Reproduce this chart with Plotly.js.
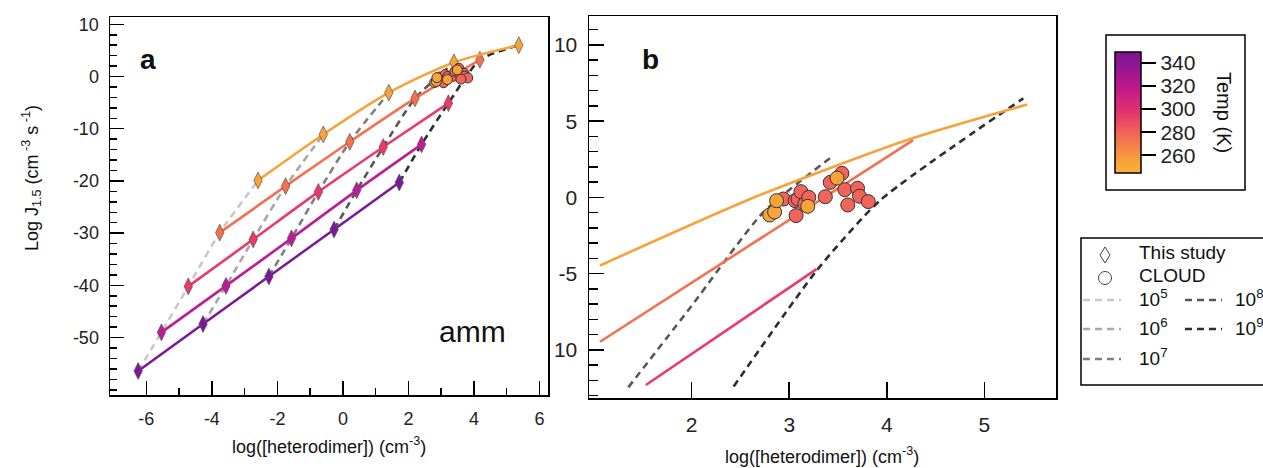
<!DOCTYPE html>
<html>
<head>
<meta charset="utf-8">
<script src="https://cdn.plot.ly/plotly-3.0.1.min.js"></script>
<style>html,body{margin:0;padding:0;background:#fff;}#chart{width:1263px;height:468px;}</style>
</head>
<body>
<div id="chart"></div>
<script>
// ---------- DATA ----------
// Panel a: "This study" curves, one per temperature (diamond points)
const xOrange  = [-2.59, -0.60, 1.40, 3.39, 5.37];
const yOrange  = [-19.9, -11.1, -3.1, 2.7, 6.0];
const xCoral   = [-3.76, -1.75, 0.21, 2.20, 4.18];
const yCoral   = [-29.9, -21.0, -12.5, -4.2, 3.2];
const xPink    = [-4.72, -2.74, -0.75, 1.23, 3.22];
const yPink    = [-40.2, -31.2, -22.1, -13.5, -5.1];
const xMagenta = [-5.54, -3.57, -1.57, 0.42, 2.40];
const yMagenta = [-49.0, -40.1, -31.0, -21.8, -13.0];
const xPurple  = [-6.25, -4.27, -2.26, -0.27, 1.72];
const yPurple  = [-56.4, -47.4, -38.3, -29.3, -20.3];
// iso-concentration labels (dashed lines join the n-th point of every curve)
const concLabels = ["10<sup>5</sup>", "10<sup>6</sup>", "10<sup>7</sup>", "10<sup>8</sup>", "10<sup>9</sup>"];

// Panel b: zoomed curves
const xOrangeB = [1.06, 2.60, 3.49, 4.27, 5.44];
const yOrangeB = [-4.46, -0.10, 2.10, 3.90, 6.10];
const xCoralB  = [1.06, 4.27];
const yCoralB  = [-9.46, 3.76];
const xPinkB   = [1.53, 3.28];
const yPinkB   = [-12.3, -4.7];
const xDash8B  = [1.35, 2.00, 2.73, 3.44];
const yDash8B  = [-12.45, -7.1, -1.0, 2.68];
const xDash9B  = [2.43, 3.28, 3.93, 5.40];
const yDash9B  = [-12.4, -4.8, -0.2, 6.5];

// CLOUD measurements (x, y, temperature K)
const xCloud = [2.94, 3.06, 3.09, 3.12, 3.16, 3.20, 3.07, 3.37, 3.42, 3.54, 3.57, 3.70, 3.72, 3.81, 3.60, 2.80, 2.85, 2.87, 3.19, 3.49];
const yCloud = [-0.10, -0.21, -0.10, 0.38, -0.42, 0.01, -1.19, 0.05, 0.99, 1.58, 0.51, 0.60, 0.08, -0.27, -0.49, -1.15, -0.95, -0.21, -0.58, 1.27];
const tCloud = [280, 280, 280, 280, 280, 280, 280, 280, 280, 280, 280, 280, 280, 280, 280, 255, 255, 255, 255, 255];

const tempTicks = [260, 280, 300, 320, 340];
const xTicksA = [-6, -4, -2, 0, 2, 4, 6];
const yTicksA = [10, 0, -10, -20, -30, -40, -50];
const xTicksB = [2, 3, 4, 5];
const yTicksB = [10, 5, 0, -5, -10];
const yTickTextB = ["10", "5", "0", "-5", "10"];

// ---------- STYLE ----------
const W = 1263, H = 468;
const FONT = "Liberation Sans, Arial, sans-serif";
const colOrange = "#f8a23a", colCoral = "#f5704f", colPink = "#ea3a6b", colMagenta = "#bd1c97", colPurple = "#7a1a98";
const dashCols = ["#c9c9c9", "#a8a8a8", "#7e7e7e", "#575757", "#2e2e2e"];
const DASH = "7px,5px";
const cscale = [[0, "#fcb03a"], [0.1, "#f8a13a"], [0.333, "#f2635a"], [0.52, "#e0316f"], [0.71, "#bf178b"], [0.9, "#8e1693"], [1, "#7a1592"]];
const px = v => v / W;
const py = v => 1 - v / H;

const curves = [
  {x: xPurple, y: yPurple, c: colPurple},
  {x: xMagenta, y: yMagenta, c: colMagenta},
  {x: xPink, y: yPink, c: colPink},
  {x: xCoral, y: yCoral, c: colCoral},
  {x: xOrange, y: yOrange, c: colOrange}
];

const traces = [];
// dashed iso lines in panel a
for (let k = 0; k < 5; k++) {
  traces.push({
    x: curves.map(c => c.x[k]), y: curves.map(c => c.y[k]),
    xaxis: "x", yaxis: "y", mode: "lines", hoverinfo: "skip",
    line: {color: dashCols[k], width: 2.6, dash: DASH, shape: "spline", smoothing: 0.6}
  });
}
// solid curves with diamonds
curves.forEach(c => {
  traces.push({
    x: c.x, y: c.y, xaxis: "x", yaxis: "y", mode: "lines+markers",
    line: {color: c.c, width: 2.6, shape: "spline", smoothing: 0.8},
    marker: {symbol: "diamond-tall", size: 12, color: c.c, line: {color: "#555", width: 0.7}}
  });
});
// CLOUD in panel a
traces.push({
  x: xCloud, y: yCloud, xaxis: "x", yaxis: "y", mode: "markers",
  marker: {symbol: "circle", size: 10, color: tCloud, colorscale: cscale, cmin: 245, cmax: 350,
           line: {color: "#333", width: 1}}
});

// panel b
traces.push({x: xDash8B, y: yDash8B, xaxis: "x2", yaxis: "y2", mode: "lines",
  line: {color: dashCols[3], width: 2.6, dash: DASH, shape: "spline", smoothing: 0.6}});
traces.push({x: xDash9B, y: yDash9B, xaxis: "x2", yaxis: "y2", mode: "lines",
  line: {color: dashCols[4], width: 2.6, dash: DASH, shape: "spline", smoothing: 0.6}});
traces.push({x: xOrangeB, y: yOrangeB, xaxis: "x2", yaxis: "y2", mode: "lines",
  line: {color: colOrange, width: 2.6, shape: "spline", smoothing: 0.8}});
traces.push({x: xCoralB, y: yCoralB, xaxis: "x2", yaxis: "y2", mode: "lines",
  line: {color: colCoral, width: 2.6}});
traces.push({x: xPinkB, y: yPinkB, xaxis: "x2", yaxis: "y2", mode: "lines",
  line: {color: colPink, width: 2.6}});
traces.push({
  x: xCloud, y: yCloud, xaxis: "x2", yaxis: "y2", mode: "markers",
  marker: {symbol: "circle", size: 14, color: tCloud, colorscale: cscale, cmin: 245, cmax: 350,
           line: {color: "#333", width: 1},
           showscale: true,
           colorbar: {x: px(1115), xanchor: "left", xpad: 0, y: py(112), yanchor: "middle", ypad: 0,
                      thickness: 26, thicknessmode: "pixels", len: 121, lenmode: "pixels",
                      outlinecolor: "#000", outlinewidth: 1.5, borderwidth: 0,
                      ticks: "outside", ticklen: 15, tickwidth: 1.5, tickcolor: "#000",
                      tickmode: "array", tickvals: tempTicks, ticktext: tempTicks.map(String),
                      tickfont: {family: FONT, size: 21, color: "#222"}}}
});

const axBase = {
  showline: true, mirror: true, linecolor: "#000", linewidth: 1.5,
  showgrid: false, zeroline: false, ticks: "inside", tickcolor: "#000", tickwidth: 1.5,
  tickfont: {family: FONT, size: 18, color: "#222"}
};

const shapes = [
  // colorbar frame
  {type: "rect", xref: "paper", yref: "paper", x0: px(1106), x1: px(1245), y0: py(35), y1: py(190),
   line: {color: "#000", width: 1.5}},
  // legend frame
  {type: "rect", xref: "paper", yref: "paper", x0: px(1081), x1: px(1290), y0: py(238), y1: py(385),
   line: {color: "#000", width: 1.5}},
  // legend symbols
  {type: "path", xref: "paper", yref: "paper",
   path: `M ${px(1105)} ${py(247)} L ${px(1110)} ${py(255)} L ${px(1105)} ${py(263)} L ${px(1100)} ${py(255)} Z`,
   line: {color: "#444", width: 1}},
  {type: "circle", xref: "paper", yref: "paper", x0: px(1098.5), x1: px(1111.5), y0: py(284.5), y1: py(271.5),
   line: {color: "#444", width: 1}}
];
const legRows = [
  {x0: 1083, x1: 1121, y: 300, tx: 1137, k: 0},
  {x0: 1083, x1: 1121, y: 329, tx: 1137, k: 1},
  {x0: 1083, x1: 1121, y: 359, tx: 1137, k: 2},
  {x0: 1185, x1: 1222, y: 300, tx: 1233, k: 3},
  {x0: 1185, x1: 1222, y: 329, tx: 1233, k: 4}
];
legRows.forEach(r => shapes.push({type: "line", xref: "paper", yref: "paper",
  x0: px(r.x0), x1: px(r.x1), y0: py(r.y), y1: py(r.y),
  line: {color: dashCols[r.k], width: 2.6, dash: DASH}}));

const ann = (x, y, text, size, extra) => Object.assign({
  xref: "paper", yref: "paper", x: px(x), y: py(y), text: text, showarrow: false,
  xanchor: "center", yanchor: "middle", font: {family: FONT, size: size, color: "#111"}
}, extra || {});

const annotations = [
  ann(148, 59, "<b>a</b>", 28),
  ann(650, 60, "<b>b</b>", 28),
  ann(472, 331, "amm", 30),
  ann(329, 445, "log([heterodimer]) (cm<sup>-3</sup>)", 18),
  ann(822, 455, "log([heterodimer]) (cm<sup>-3</sup>)", 18),
  ann(31, 178, "Log J<sub>1.5</sub> (cm<sup> -3</sup> s<sup> -1</sup>)", 18, {textangle: -90}),
  ann(1224, 112, "Temp (K)", 20, {textangle: 90}),
  ann(1137, 253, "This study", 19, {xanchor: "left"}),
  ann(1137, 275, "CLOUD", 19, {xanchor: "left"})
];
legRows.forEach(r => annotations.push(ann(r.tx, r.y - 2, concLabels[r.k], 19, {xanchor: "left"})));

const layout = {
  width: W, height: H, margin: {l: 0, r: 0, t: 0, b: 0},
  paper_bgcolor: "#fff", plot_bgcolor: "#fff", showlegend: false,
  font: {family: FONT, color: "#222"},
  xaxis: Object.assign({}, axBase, {
    domain: [px(110), px(548)], range: [-7.11, 6.26],
    tickmode: "array", tickvals: xTicksA, ticktext: xTicksA.map(String), ticklen: 14,
    minor: {tickmode: "array", tickvals: [-5, -3, -1, 1, 3, 5], ticklen: 7, ticks: "inside", tickwidth: 1.5, tickcolor: "#000"},
    anchor: "y", ticklabelstandoff: 7
  }),
  yaxis: Object.assign({}, axBase, {
    domain: [py(395), py(17)], range: [-61.0, 11.4],
    tickmode: "array", tickvals: yTicksA, ticktext: yTicksA.map(String), ticklen: 14,
    minor: {tickmode: "linear", tick0: 0, dtick: 2, ticklen: 7, ticks: "inside", tickwidth: 1.5, tickcolor: "#000"},
    anchor: "x", ticklabelstandoff: 6
  }),
  xaxis2: Object.assign({}, axBase, {
    domain: [px(589), px(1056)], range: [0.947, 5.735],
    tickmode: "array", tickvals: xTicksB, ticktext: xTicksB.map(String), ticklen: 16,
    tickfont: {family: FONT, size: 21, color: "#222"},
    anchor: "y2", ticklabelstandoff: 7
  }),
  yaxis2: Object.assign({}, axBase, {
    domain: [py(398), py(16)], range: [-13.15, 11.9],
    tickmode: "array", tickvals: yTicksB, ticktext: yTickTextB, ticklen: 15,
    tickfont: {family: FONT, size: 21, color: "#222"},
    minor: {tickmode: "linear", tick0: 0, dtick: 1, ticklen: 9, ticks: "inside", tickwidth: 1.5, tickcolor: "#000"},
    anchor: "x2", ticklabelstandoff: 6
  }),
  shapes: shapes,
  annotations: annotations
};

Plotly.newPlot("chart", traces, layout, {displayModeBar: false, staticPlot: true});
</script>
</body>
</html>
